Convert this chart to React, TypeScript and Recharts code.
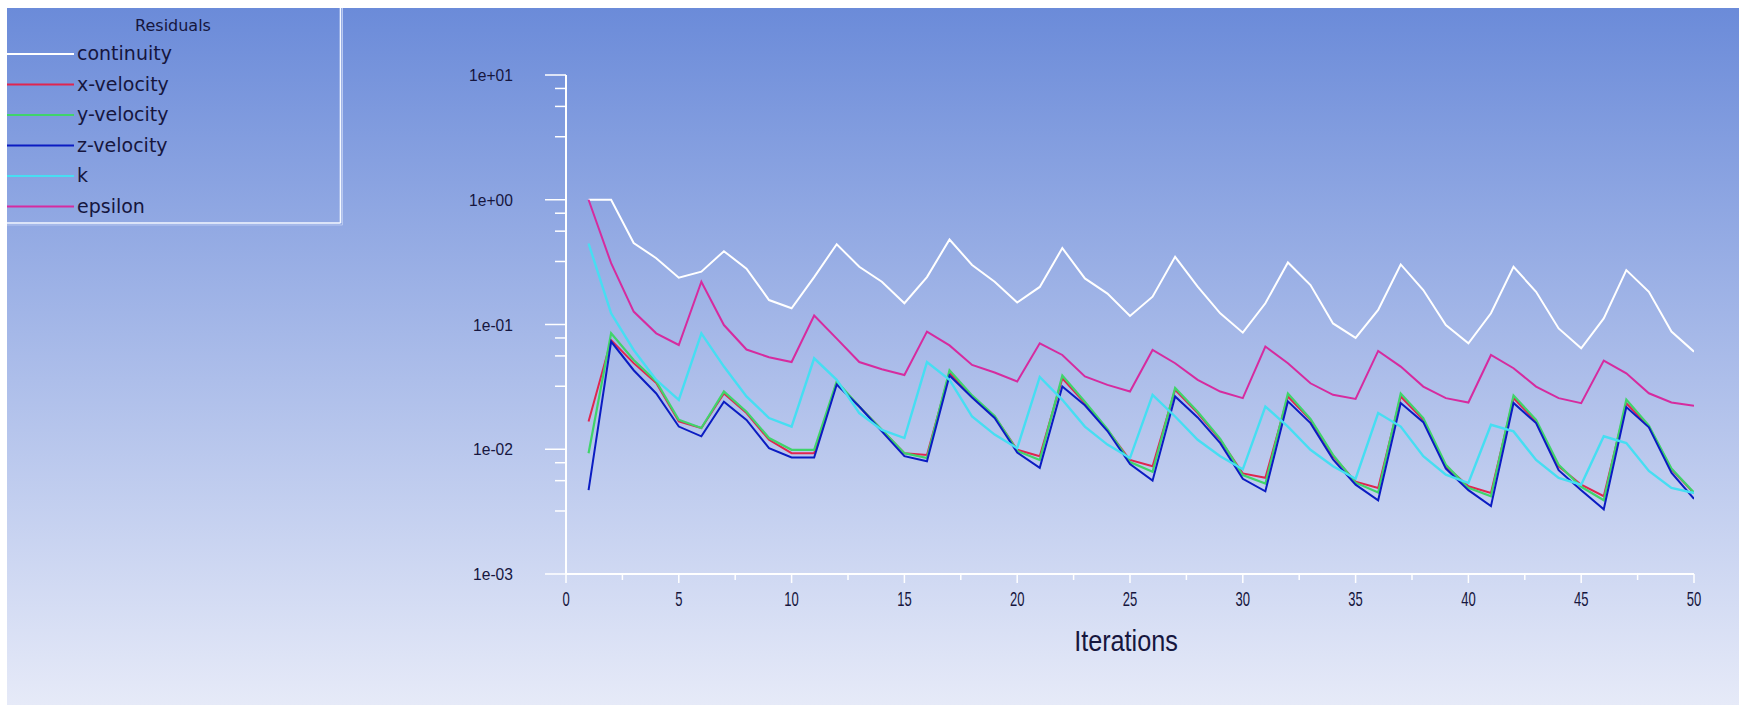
import React from 'react';
import { LineChart, Line, XAxis, YAxis, Legend } from 'recharts';

const iterations = [
  1, 2, 3, 4, 5, 6, 7, 8, 9, 10, 11, 12, 13, 14, 15, 16, 17, 18, 19, 20, 21, 22, 23, 24, 25,
  26, 27, 28, 29, 30, 31, 32, 33, 34, 35, 36, 37, 38, 39, 40, 41, 42, 43, 44, 45, 46, 47, 48, 49, 50,
];

const continuity = [
  1.0, 1.0, 0.45, 0.34, 0.237, 0.265, 0.387, 0.28, 0.157, 0.135,
  0.24, 0.44, 0.29, 0.22, 0.148, 0.24, 0.48, 0.3, 0.22, 0.15,
  0.2, 0.41, 0.234, 0.177, 0.117, 0.167, 0.349, 0.201, 0.123, 0.086,
  0.148, 0.314, 0.207, 0.102, 0.078, 0.131, 0.303, 0.189, 0.099, 0.0707,
  0.123, 0.29, 0.183, 0.093, 0.0644, 0.112, 0.273, 0.183, 0.0877, 0.0606,
];

const xVelocity = [
  0.0167, 0.075, 0.049, 0.034, 0.0167, 0.0148, 0.028, 0.0195, 0.0119, 0.0093,
  0.0093, 0.034, 0.022, 0.0143, 0.0093, 0.009, 0.041, 0.0265, 0.0183, 0.0099,
  0.0088, 0.037, 0.0234, 0.0143, 0.0082, 0.0073, 0.03, 0.0195, 0.0119, 0.0064,
  0.0059, 0.0265, 0.0172, 0.0088, 0.0055, 0.0049, 0.0265, 0.0172, 0.0073, 0.00505,
  0.00446, 0.0257, 0.0167, 0.0073, 0.0052, 0.0042, 0.0234, 0.0152, 0.0069, 0.00446,
];

const yVelocity = [
  0.0093, 0.085, 0.052, 0.035, 0.0172, 0.0148, 0.029, 0.02, 0.0123, 0.0099,
  0.0099, 0.035, 0.022, 0.0143, 0.0093, 0.0085, 0.043, 0.027, 0.0185, 0.0097,
  0.0082, 0.039, 0.024, 0.0145, 0.0079, 0.0066, 0.031, 0.02, 0.0121, 0.0062,
  0.0053, 0.028, 0.0175, 0.009, 0.0054, 0.0045, 0.028, 0.0178, 0.0075, 0.0049,
  0.0042, 0.027, 0.0172, 0.0075, 0.005, 0.0039, 0.025, 0.0155, 0.007, 0.0045,
];

const zVelocity = [
  0.0047, 0.073, 0.043, 0.028, 0.0152, 0.0127, 0.024, 0.0172, 0.0102, 0.0086,
  0.0086, 0.033, 0.022, 0.0139, 0.0088, 0.008, 0.039, 0.026, 0.0178, 0.0094,
  0.0071, 0.0318, 0.0225, 0.014, 0.0076, 0.0056, 0.0265, 0.018, 0.0112, 0.0058,
  0.0046, 0.0242, 0.0162, 0.0083, 0.0052, 0.0039, 0.0235, 0.0165, 0.007, 0.0047,
  0.0035, 0.0235, 0.0162, 0.0068, 0.0047, 0.0033, 0.0218, 0.015, 0.0065, 0.004,
];

const kValues = [
  0.446, 0.123, 0.0625, 0.036, 0.0249, 0.085, 0.046, 0.0265, 0.0178, 0.0152,
  0.0536, 0.036, 0.0195, 0.0143, 0.0123, 0.05, 0.036, 0.0183, 0.0131, 0.0102,
  0.038, 0.0249, 0.0152, 0.0109, 0.0085, 0.0273, 0.0183, 0.0119, 0.0088, 0.0069,
  0.022, 0.0152, 0.0099, 0.0073, 0.0058, 0.0195, 0.0152, 0.0088, 0.00625, 0.00536,
  0.0157, 0.0139, 0.0082, 0.0059, 0.0052, 0.0127, 0.0112, 0.0067, 0.0049, 0.00446,
];

const epsilon = [
  1.0, 0.31, 0.127, 0.085, 0.0685, 0.22, 0.099, 0.063, 0.0546, 0.05,
  0.118, 0.077, 0.05, 0.0438, 0.0394, 0.0877, 0.068, 0.0474, 0.0412, 0.0349,
  0.0707, 0.057, 0.0383, 0.0328, 0.029, 0.0625, 0.0489, 0.036, 0.029, 0.0257,
  0.0666, 0.0489, 0.0338, 0.0273, 0.0253, 0.0614, 0.046, 0.0318, 0.0257, 0.0237,
  0.057, 0.0446, 0.0318, 0.0257, 0.0234, 0.0514, 0.0406, 0.0281, 0.0237, 0.0223,
];

const seriesKeys = ['continuity', 'xVel', 'yVel', 'zVel', 'k', 'epsilon'];
const seriesNames = ['continuity', 'x-velocity', 'y-velocity', 'z-velocity', 'k', 'epsilon'];
const seriesColors = ['#ffffff', '#e0254f', '#3fd46a', '#0b1cc2', '#46def2', '#d62b9f'];
const seriesWidths = [2, 2, 2.2, 2, 2.4, 2];
const seriesValues = [continuity, xVelocity, yVelocity, zVelocity, kValues, epsilon];

const yMajorTicks = [0.001, 0.01, 0.1, 1, 10];
const yTickLabels = ['1e-03', '1e-02', '1e-01', '1e+00', '1e+01'];
const yMinorFactors = [7.8, 5.6, 3.2];
const xMajorTicks = [0, 5, 10, 15, 20, 25, 30, 35, 40, 45, 50];
const xMinorTicks = [2.5, 7.5, 12.5, 17.5, 22.5, 27.5, 32.5, 37.5, 42.5, 47.5];

const data = iterations.map((it, i) => {
  const row: Record<string, number> = { iter: it };
  seriesKeys.forEach((key, s) => {
    row[key] = seriesValues[s][i];
  });
  return row;
});

const yTicks: number[] = [...yMajorTicks];
yMajorTicks.slice(0, 4).forEach((base) => {
  yMinorFactors.forEach((f) => yTicks.push(base * f));
});
yTicks.sort((a, b) => a - b);
const xTicks = [...xMajorTicks, ...xMinorTicks].sort((a, b) => a - b);

const TEXT = '#16163e';

const YTick = (props: any) => {
  const { x, y, payload } = props;
  const idx = yMajorTicks.findIndex((v) => Math.abs(v - payload.value) < v * 1e-6);
  const major = idx >= 0;
  return (
    <g>
      <line x1={x - (major ? 21 : 11)} x2={x} y1={y} y2={y} stroke="#ffffff" strokeWidth={1.5} />
      {major && (
        <g transform={`translate(${x - 53},${y + 6})`}>
          <text transform="scale(0.92,1)" textAnchor="end" fontFamily="'Liberation Sans', Arial, sans-serif" fontSize={17} fill={TEXT}>
            {yTickLabels[idx]}
          </text>
        </g>
      )}
    </g>
  );
};

const XTick = (props: any) => {
  const { x, y, payload } = props;
  const major = xMajorTicks.includes(payload.value);
  return (
    <g>
      <line x1={x} x2={x} y1={y} y2={y + (major ? 9 : 6)} stroke="#ffffff" strokeWidth={1.5} />
      {major && (
        <g transform={`translate(${x},${y + 32})`}>
          <text transform="scale(0.62,1)" textAnchor="middle" fontFamily="'Liberation Sans', Arial, sans-serif" fontSize={21} fill={TEXT}>
            {payload.value}
          </text>
        </g>
      )}
    </g>
  );
};

const IterLabel = (props: any) => {
  const vb = props.viewBox || {};
  const cx = (vb.x || 0) + (vb.width || 0) / 2;
  const y = (vb.y || 0) + 77;
  return (
    <g transform={`translate(${cx - 4},${y})`}>
      <text transform="scale(0.87,1)" textAnchor="middle" fontFamily="'Liberation Sans', Arial, sans-serif" fontSize={29} fill={TEXT}>
        Iterations
      </text>
    </g>
  );
};

const LegendBox = () => (
  <svg width={336} height={218} style={{ display: 'block' }}>
    <text x={166} y={23} textAnchor="middle" fontFamily="'DejaVu Sans', sans-serif" fontSize={16} fill={TEXT}>
      Residuals
    </text>
    {seriesNames.map((name, i) => {
      const cy = 46 + i * 30.5;
      return (
        <g key={name}>
          <line x1={0} x2={67} y1={cy} y2={cy} stroke={seriesColors[i]} strokeWidth={2.2} />
          <text x={70} y={cy + 6} fontFamily="'DejaVu Sans', sans-serif" fontSize={19} fill={TEXT}>
            {name}
          </text>
        </g>
      );
    })}
    <line x1={333.5} x2={333.5} y1={0} y2={215} stroke="#f4f8ff" strokeWidth={1.6} />
    <line x1={0} x2={333.5} y1={215} y2={215} stroke="#f4f8ff" strokeWidth={1.6} />
    <line x1={335.5} x2={335.5} y1={0} y2={217} stroke="#b8c8f0" strokeWidth={1} />
    <line x1={0} x2={335.5} y1={217} y2={217} stroke="#b8c8f0" strokeWidth={1} />
  </svg>
);

export default function App() {
  return (
    <div style={{ position: 'absolute', left: 0, top: 0, width: 1739, height: 706, background: '#ffffff', overflow: 'hidden' }}>
      <div
        style={{
          position: 'absolute',
          left: 7,
          top: 8,
          width: 1732,
          height: 697,
          background: 'linear-gradient(to bottom, #6b8bd9 0%, #a9bbe9 50%, #e6eaf8 100%)',
        }}
      />
      <div style={{ position: 'absolute', left: 0, top: 0 }}>
        <LineChart width={1739} height={706} data={data} margin={{ top: 75, right: 45, bottom: 92, left: 506 }}>
          <XAxis
            dataKey="iter"
            type="number"
            domain={[0, 50]}
            ticks={xTicks}
            interval={0}
            height={40}
            tickSize={0}
            tickMargin={0}
            tickLine={false}
            axisLine={{ stroke: '#ffffff', strokeWidth: 2 }}
            tick={<XTick />}
            label={<IterLabel />}
            allowDataOverflow
          />
          <YAxis
            type="number"
            scale="log"
            domain={[0.001, 10]}
            ticks={yTicks}
            interval={0}
            width={60}
            tickSize={0}
            tickMargin={0}
            tickLine={false}
            axisLine={{ stroke: '#ffffff', strokeWidth: 2 }}
            tick={<YTick />}
            allowDataOverflow
          />
          <Legend
            layout="vertical"
            align="center"
            verticalAlign="middle"
            wrapperStyle={{ position: 'absolute', left: 7, top: 8, width: 336, height: 218 }}
            content={() => <LegendBox />}
          />
          {seriesKeys.map((key, i) => (
            <Line
              key={key}
              type="linear"
              dataKey={key}
              name={seriesNames[i]}
              stroke={seriesColors[i]}
              strokeWidth={seriesWidths[i]}
              dot={false}
              activeDot={false}
              isAnimationActive={false}
            />
          ))}
        </LineChart>
      </div>
    </div>
  );
}
